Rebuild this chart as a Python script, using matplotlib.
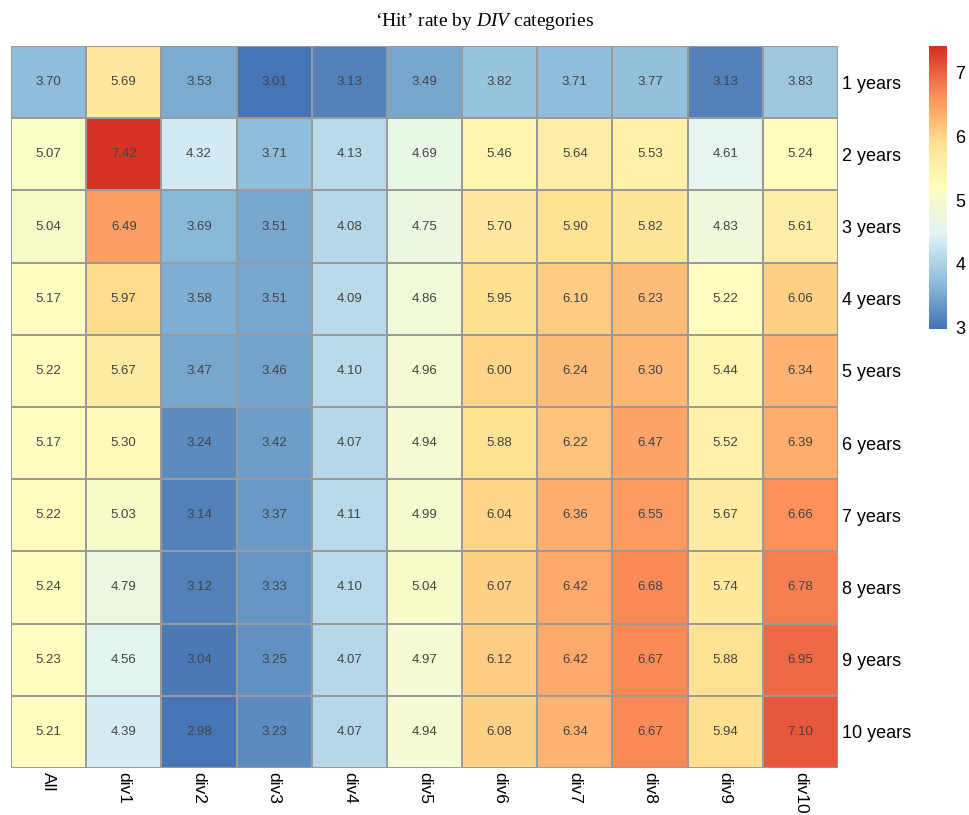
import numpy as np
import matplotlib
matplotlib.use("Agg")
import matplotlib.pyplot as plt
from matplotlib.colors import LinearSegmentedColormap, Normalize

plt.rcParams["font.family"] = ["Liberation Sans", "DejaVu Sans"]
plt.rcParams["mathtext.fontset"] = "custom"
plt.rcParams["mathtext.it"] = "Liberation Serif:italic"
plt.rcParams["mathtext.rm"] = "Liberation Serif"

# Column and row labels
col_labels = ["All", "div1", "div2", "div3", "div4", "div5",
              "div6", "div7", "div8", "div9", "div10"]
row_labels = ["1 years", "2 years", "3 years", "4 years", "5 years",
              "6 years", "7 years", "8 years", "9 years", "10 years"]

# 'Hit' rate values, one list per row
y1 = [3.70, 5.69, 3.53, 3.01, 3.13, 3.49, 3.82, 3.71, 3.77, 3.13, 3.83]
y2 = [5.07, 7.42, 4.32, 3.71, 4.13, 4.69, 5.46, 5.64, 5.53, 4.61, 5.24]
y3 = [5.04, 6.49, 3.69, 3.51, 4.08, 4.75, 5.70, 5.90, 5.82, 4.83, 5.61]
y4 = [5.17, 5.97, 3.58, 3.51, 4.09, 4.86, 5.95, 6.10, 6.23, 5.22, 6.06]
y5 = [5.22, 5.67, 3.47, 3.46, 4.10, 4.96, 6.00, 6.24, 6.30, 5.44, 6.34]
y6 = [5.17, 5.30, 3.24, 3.42, 4.07, 4.94, 5.88, 6.22, 6.47, 5.52, 6.39]
y7 = [5.22, 5.03, 3.14, 3.37, 4.11, 4.99, 6.04, 6.36, 6.55, 5.67, 6.66]
y8 = [5.24, 4.79, 3.12, 3.33, 4.10, 5.04, 6.07, 6.42, 6.68, 5.74, 6.78]
y9 = [5.23, 4.56, 3.04, 3.25, 4.07, 4.97, 6.12, 6.42, 6.67, 5.88, 6.95]
y10 = [5.21, 4.39, 2.98, 3.23, 4.07, 4.94, 6.08, 6.34, 6.67, 5.94, 7.10]

data = np.array([y1, y2, y3, y4, y5, y6, y7, y8, y9, y10])

# pheatmap-like palette (reversed RdYlBu, 7 colours)
palette = ["#4575B4", "#91BFDB", "#E0F3F8", "#FFFFBF",
           "#FEE090", "#FC8D59", "#D73027"]
cmap = LinearSegmentedColormap.from_list("rdylbu_r", palette, N=100)
norm = Normalize(vmin=data.min(), vmax=data.max())

fig = plt.figure(figsize=(9.69, 8.15), dpi=100)
W, H = 969, 815

# heatmap axes
ax = fig.add_axes([11 / W, 1 - 768 / H, (838 - 11) / W, (768 - 46) / H])
ax.pcolormesh(data, cmap=cmap, norm=norm, edgecolors="#9a9a9a", linewidth=1.2)
ax.set_xlim(0, data.shape[1])
ax.set_ylim(data.shape[0], 0)

for i in range(data.shape[0]):
    for j in range(data.shape[1]):
        ax.text(j + 0.5, i + 0.5, "%.2f" % data[i, j], ha="center", va="center",
                fontsize=9.5, color="#444444")

for s in ax.spines.values():
    s.set_visible(False)
ax.tick_params(length=0)
ax.set_xticks(np.arange(data.shape[1]) + 0.5)
ax.set_xticklabels(col_labels, rotation=270, fontsize=12.5, va="top")
ax.set_yticks(np.arange(data.shape[0]) + 0.5)
ax.set_yticklabels(row_labels, fontsize=13)
ax.yaxis.tick_right()
ax.tick_params(axis="y", pad=3)
ax.tick_params(axis="x", pad=3)

# title with italic DIV
fig.text(0.5, 1 - 22 / H, "\u2018Hit\u2019 rate by $\\mathit{DIV}$ categories",
         ha="center", va="center", fontsize=14, family="Liberation Serif")

# colour legend
cax = fig.add_axes([929 / W, 1 - 329 / H, 18 / W, (329 - 46) / H])
grad = np.linspace(data.min(), data.max(), 200).reshape(-1, 1)
cax.imshow(grad, cmap=cmap, norm=norm, aspect="auto", origin="lower",
           extent=[0, 1, data.min(), data.max()])
cax.set_xticks([])
cax.yaxis.tick_right()
cax.set_yticks([3, 4, 5, 6, 7])
cax.tick_params(length=0, labelsize=13, pad=6)
for s in cax.spines.values():
    s.set_visible(False)

fig.savefig("out.png", dpi=100)
